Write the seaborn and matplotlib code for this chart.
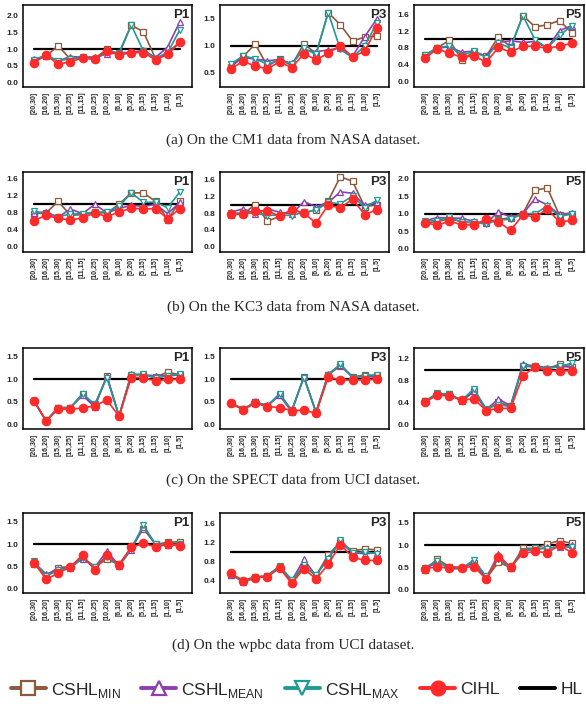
import numpy as np
import matplotlib
matplotlib.use("Agg")
import matplotlib.pyplot as plt
import seaborn as sns
from matplotlib.lines import Line2D

sns.set_style("white")
plt.rcParams['font.family'] = ['Liberation Sans', 'DejaVu Sans']

# x categories (parameter intervals)
intervals = ["[20,30]", "[16,20]", "[15,30]", "[15,25]", "[11,15]", "[10,25]",
             "[10,20]", "[6,10]", "[5,20]", "[5,15]", "[1,15]", "[1,10]", "[1,5]"]
hl_level = 1.0

# ---- CM1 (NASA) ----
cm1_p1 = dict(
    mn=[0.65, 0.80, 1.10, 0.70, 0.75, 0.72, 1.00, 0.85, 1.72, 1.52, 0.72, 0.90, 1.22],
    mean=[0.70, 0.80, 0.65, 0.78, 0.76, 0.77, 0.85, 0.90, 0.90, 0.97, 0.75, 1.07, 1.82],
    mx=[0.68, 0.82, 0.65, 0.72, 0.76, 0.68, 0.92, 0.90, 1.72, 0.95, 0.72, 0.90, 1.58],
    cihl=[0.60, 0.82, 0.55, 0.63, 0.73, 0.71, 0.96, 0.82, 0.90, 0.90, 0.68, 0.85, 1.20])
cm1_p3 = dict(
    mn=[0.60, 0.80, 1.03, 0.62, 0.75, 0.63, 1.04, 0.85, 1.62, 1.39, 1.09, 1.16, 1.18],
    mean=[0.63, 0.78, 0.75, 0.72, 0.74, 0.67, 0.92, 0.89, 0.92, 0.96, 0.80, 1.17, 1.50],
    mx=[0.66, 0.81, 0.76, 0.65, 0.74, 0.65, 0.95, 0.84, 1.62, 0.93, 0.78, 1.00, 1.42],
    cihl=[0.57, 0.71, 0.62, 0.57, 0.70, 0.59, 0.85, 0.74, 0.86, 1.00, 0.79, 0.90, 1.33])
cm1_p5 = dict(
    mn=[0.62, 0.80, 0.98, 0.52, 0.70, 0.60, 1.07, 0.82, 1.57, 1.30, 1.35, 1.45, 1.16],
    mean=[0.62, 0.80, 0.82, 0.70, 0.72, 0.60, 0.93, 0.97, 0.93, 0.95, 0.80, 1.21, 1.33],
    mx=[0.63, 0.80, 0.85, 0.62, 0.72, 0.57, 0.92, 0.79, 1.57, 0.99, 0.80, 1.10, 1.32],
    cihl=[0.55, 0.78, 0.67, 0.58, 0.61, 0.46, 0.81, 0.70, 0.84, 0.84, 0.79, 0.84, 0.91])

# ---- KC3 (NASA) ----
kc3_p1 = dict(
    mn=[0.78, 0.80, 1.07, 0.74, 0.76, 0.80, 0.80, 1.00, 1.27, 1.27, 1.07, 0.64, 1.07],
    mean=[0.80, 0.82, 0.70, 0.89, 0.78, 1.00, 0.80, 0.90, 0.98, 0.95, 1.00, 0.78, 1.05],
    mx=[0.84, 0.78, 0.70, 0.78, 0.78, 0.82, 0.82, 0.95, 1.27, 1.05, 1.05, 0.92, 1.29],
    cihl=[0.62, 0.74, 0.67, 0.63, 0.68, 0.80, 0.71, 0.82, 0.91, 0.89, 0.90, 0.66, 0.90])
kc3_p3 = dict(
    mn=[0.76, 0.78, 1.00, 0.61, 0.72, 0.88, 0.80, 0.88, 1.09, 1.66, 1.55, 0.95, 1.00],
    mean=[0.82, 0.90, 0.78, 0.90, 0.82, 0.78, 1.07, 0.95, 1.05, 1.30, 1.27, 0.98, 1.05],
    mx=[0.80, 0.80, 0.80, 0.74, 0.76, 0.74, 0.82, 0.87, 1.05, 1.02, 1.20, 0.93, 1.10],
    cihl=[0.77, 0.78, 0.84, 0.86, 0.72, 0.88, 0.80, 0.56, 0.99, 0.92, 1.13, 0.76, 0.88])
kc3_p5 = dict(
    mn=[0.73, 0.78, 0.85, 0.78, 0.72, 0.75, 0.84, 0.88, 1.00, 1.68, 1.74, 0.95, 1.00],
    mean=[0.80, 0.89, 0.88, 0.87, 0.78, 0.72, 1.06, 0.90, 1.00, 1.43, 1.25, 0.98, 1.02],
    mx=[0.80, 0.80, 0.90, 0.75, 0.76, 0.70, 0.82, 0.84, 1.00, 1.00, 1.22, 0.92, 1.00],
    cihl=[0.74, 0.67, 0.79, 0.68, 0.68, 0.84, 0.77, 0.52, 0.97, 0.90, 1.14, 0.76, 0.81])

# ---- SPECT (UCI) ----
spect_p1 = dict(
    mn=[0.52, 0.07, 0.37, 0.37, 0.67, 0.42, 1.07, 0.18, 1.10, 1.10, 1.05, 1.16, 1.10],
    mean=[0.52, 0.07, 0.36, 0.37, 0.64, 0.38, 1.07, 0.18, 1.12, 1.10, 1.08, 1.08, 1.10],
    mx=[0.52, 0.07, 0.37, 0.36, 0.68, 0.44, 1.04, 0.18, 1.10, 1.12, 1.02, 1.08, 1.12],
    cihl=[0.52, 0.07, 0.34, 0.33, 0.36, 0.41, 0.54, 0.17, 1.04, 1.04, 0.96, 1.00, 1.00])
spect_p3 = dict(
    mn=[0.47, 0.33, 0.49, 0.40, 0.66, 0.30, 1.05, 0.26, 1.10, 1.30, 1.05, 1.10, 1.08],
    mean=[0.48, 0.33, 0.49, 0.42, 0.64, 0.28, 1.06, 0.26, 1.12, 1.32, 1.06, 1.05, 1.06],
    mx=[0.47, 0.33, 0.49, 0.41, 0.68, 0.31, 1.04, 0.27, 1.10, 1.34, 1.04, 1.08, 1.10],
    cihl=[0.46, 0.32, 0.47, 0.39, 0.37, 0.30, 0.31, 0.24, 1.05, 0.99, 0.98, 0.99, 1.00])
spect_p5 = dict(
    mn=[0.42, 0.55, 0.55, 0.42, 0.60, 0.25, 0.40, 0.33, 1.07, 1.05, 1.02, 1.10, 1.05],
    mean=[0.42, 0.55, 0.55, 0.44, 0.60, 0.27, 0.46, 0.34, 1.10, 1.07, 1.04, 1.06, 1.05],
    mx=[0.42, 0.57, 0.55, 0.44, 0.65, 0.28, 0.36, 0.32, 1.07, 1.06, 1.02, 1.06, 1.12],
    cihl=[0.41, 0.53, 0.52, 0.45, 0.46, 0.25, 0.29, 0.29, 0.89, 1.05, 0.98, 0.98, 0.98])

# ---- wpbc (UCI) ----
wpbc_p1 = dict(
    mn=[0.56, 0.30, 0.48, 0.50, 0.70, 0.50, 0.66, 0.55, 0.93, 1.35, 1.00, 1.04, 1.06],
    mean=[0.60, 0.33, 0.44, 0.48, 0.68, 0.48, 0.85, 0.52, 0.88, 1.38, 1.00, 0.98, 1.00],
    mx=[0.62, 0.28, 0.42, 0.47, 0.70, 0.50, 0.72, 0.52, 0.90, 1.43, 1.00, 1.00, 1.00],
    cihl=[0.59, 0.22, 0.35, 0.50, 0.76, 0.42, 0.77, 0.53, 0.93, 1.02, 0.94, 1.00, 0.96])
wpbc_p3 = dict(
    mn=[0.52, 0.40, 0.48, 0.50, 0.68, 0.38, 0.70, 0.50, 0.94, 1.20, 1.02, 1.06, 1.04],
    mean=[0.52, 0.38, 0.46, 0.50, 0.70, 0.40, 0.84, 0.50, 0.88, 1.20, 0.98, 0.96, 0.98],
    mx=[0.52, 0.38, 0.44, 0.50, 0.70, 0.42, 0.72, 0.52, 0.85, 1.24, 0.98, 1.00, 0.96],
    cihl=[0.55, 0.40, 0.46, 0.48, 0.66, 0.34, 0.65, 0.43, 0.74, 1.15, 0.89, 0.82, 0.82])
wpbc_p5 = dict(
    mn=[0.44, 0.69, 0.52, 0.50, 0.60, 0.25, 0.62, 0.50, 0.93, 0.93, 1.03, 1.10, 1.04],
    mean=[0.47, 0.62, 0.50, 0.50, 0.60, 0.26, 0.80, 0.48, 0.88, 0.90, 0.95, 0.95, 1.00],
    mx=[0.50, 0.65, 0.46, 0.48, 0.67, 0.30, 0.70, 0.48, 0.88, 0.93, 0.92, 0.97, 0.95],
    cihl=[0.47, 0.52, 0.48, 0.50, 0.52, 0.24, 0.74, 0.51, 0.82, 0.86, 0.83, 1.00, 0.83])

captions = ["(a) On the CM1 data from NASA dataset.",
            "(b) On the KC3 data from NASA dataset.",
            "(c) On the SPECT data from UCI dataset.",
            "(d) On the wpbc data from UCI dataset."]
panel_titles = ["P1", "P3", "P5"]

# series styles: key, label, colour, marker, filled
series = [
    ("mn", r"CSHL$_{\mathregular{MIN}}$", "#8b5a3c", "s", False),
    ("mean", r"CSHL$_{\mathregular{MEAN}}$", "#8c3fae", "^", False),
    ("mx", r"CSHL$_{\mathregular{MAX}}$", "#1f9a96", "v", False),
    ("cihl", "CIHL", "#ff2a2a", "o", True),
]

grid = [
    [(cm1_p1, (-0.13, 2.32), [0.0, 0.5, 1.0, 1.5, 2.0]),
     (cm1_p3, (0.23, 1.76), [0.5, 1.0, 1.5]),
     (cm1_p5, (-0.13, 1.82), [0.0, 0.4, 0.8, 1.2, 1.6])],
    [(kc3_p1, (-0.12, 1.76), [0.0, 0.4, 0.8, 1.2, 1.6]),
     (kc3_p3, (-0.12, 1.77), [0.0, 0.4, 0.8, 1.2, 1.6]),
     (kc3_p5, (-0.10, 2.2), [0.0, 0.5, 1.0, 1.5, 2.0])],
    [(spect_p1, (-0.11, 1.70), [0.0, 0.5, 1.0, 1.5]),
     (spect_p3, (-0.11, 1.70), [0.0, 0.5, 1.0, 1.5]),
     (spect_p5, (-0.09, 1.40), [0.0, 0.4, 0.8, 1.2])],
    [(wpbc_p1, (-0.09, 1.70), [0.0, 0.5, 1.0, 1.5]),
     (wpbc_p3, (0.14, 1.81), [0.4, 0.8, 1.2, 1.6]),
     (wpbc_p5, (-0.07, 1.72), [0.0, 0.5, 1.0, 1.5])],
]

W, H = 586, 707
fig = plt.figure(figsize=(W / 100, H / 100), dpi=100)

rows_px = [(5, 87), (172, 252), (348, 429), (513, 593)]
cols_px = [(23, 192), (220, 389), (414, 584)]
caption_y = [140, 307, 480, 645]

x = np.arange(len(intervals))

for r, row in enumerate(grid):
    top, bot = rows_px[r]
    for c, (panel, ylim, yticks) in enumerate(row):
        left, right = cols_px[c]
        ax = fig.add_axes([left / W, 1 - bot / H, (right - left) / W, (bot - top) / H])
        sns.lineplot(x=x, y=np.full(len(x), hl_level), ax=ax, color="black",
                     linewidth=1.6, zorder=1)
        for key, label, color, marker, filled in series:
            sns.lineplot(x=x, y=panel[key], ax=ax, color=color, marker=marker,
                         markersize=6 if filled else 5,
                         markerfacecolor=color if filled else "white",
                         markeredgecolor=color, markeredgewidth=0.9,
                         linewidth=1.2, zorder=3 if filled else 2)
        ax.set_xlim(-0.9, 13)
        ax.set_ylim(*ylim)
        ax.set_xticks(np.arange(len(intervals) + 1))
        ax.set_xticklabels(intervals + [""], rotation=90, fontsize=5,
                           fontweight="bold")
        ax.set_yticks(yticks)
        ax.set_yticklabels([f"{v:.1f}" for v in yticks], fontsize=6,
                           fontweight="bold")
        ax.tick_params(axis="both", direction="out", length=2, width=0.8, pad=1.5)
        ax.set_xlabel("")
        ax.set_ylabel("")
        for s in ax.spines.values():
            s.set_linewidth(1.1)
            s.set_color("black")
        ax.text(0.985, 0.95, panel_titles[c], transform=ax.transAxes,
                ha="right", va="top", fontsize=9.5, fontweight="bold")
    fig.text(0.5, 1 - caption_y[r] / H, captions[r], ha="center", va="center",
             fontsize=11, family="Liberation Serif")

handles = []
for key, label, color, marker, filled in series:
    handles.append(Line2D([], [], color=color, marker=marker, markersize=10,
                          markerfacecolor=color if filled else "white",
                          markeredgecolor=color, markeredgewidth=1.6,
                          linewidth=2.8, label=label))
handles.append(Line2D([], [], color="black", linewidth=2.8, label="HL"))
fig.legend(handles=handles, loc="center left", bbox_to_anchor=(-0.008, 1 - 690 / H),
           ncol=5, frameon=False, fontsize=12.5, handlelength=2.0,
           handletextpad=0.3, columnspacing=1.2)

fig.savefig("out.png", dpi=100)
